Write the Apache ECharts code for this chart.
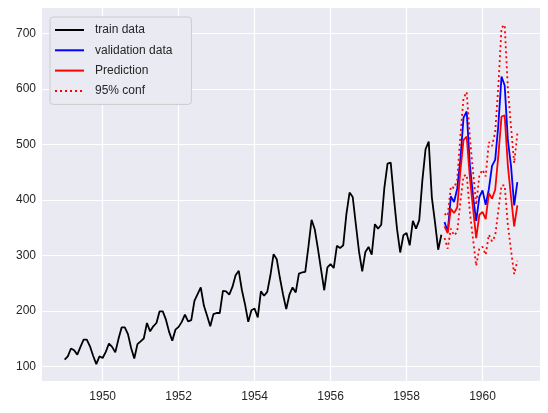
<!DOCTYPE html>
<html><head><meta charset="utf-8">
<script src="https://cdn.jsdelivr.net/npm/echarts@6/dist/echarts.min.js"></script>
<style>html,body{margin:0;padding:0;background:#fff}#c{width:548px;height:413px}</style>
</head><body><div id="c"></div>
<script>
const trainStart = 1949;
const trainValues = [
  112,118,132,129,121,135,148,148,136,119,104,118,
  115,126,141,135,125,149,170,170,158,133,114,140,
  145,150,178,163,172,178,199,199,184,162,146,166,
  171,180,193,181,183,218,230,242,209,191,172,194,
  196,196,236,235,229,243,264,272,237,211,180,201,
  204,188,235,227,234,264,302,293,259,229,203,229,
  242,233,267,269,270,315,364,347,312,274,237,278,
  284,277,317,313,318,374,413,405,355,306,271,306,
  315,301,356,348,355,422,465,467,404,347,305,336,
  340,318,362,348,363,435,491,505,404,359,310,337
];
const validStart = 1959;
const validValues = [
  360,342,406,396,420,472,548,559,463,407,362,405,
  417,391,419,461,472,535,622,606,508,461,390,432
];
const predValues = [
  352,340,384,376,386,452,508,514,440,385,331,373,
  378,365,412,402,418,480,550,552,462,405,352,390
];
const upperValues = [
  375,371,424,421,436,515,583,594,512,451,391,444,
  454,442,504,497,522,605,710,715,601,531,466,519
];
const lowerValues = [
  331,312,348,336,342,396,443,445,378,329,281,313,
  315,301,337,325,335,381,426,426,355,309,266,290
];
const xTicks = [1950,1952,1954,1956,1958,1960];
const yTicks = [100,200,300,400,500,600,700];
const names = ['train data','validation data','Prediction','95% conf'];

function toPoints(start, vals){ return vals.map((v,i)=>[start + i/12, v]); }

const FONT = 'Liberation Sans, Arial, sans-serif';
const TXT = '#262626';
const LW = 1.8;

const gridLines = xTicks.map(v=>({xAxis:v})).concat(yTicks.map(v=>({yAxis:v})));

const chart = echarts.init(document.getElementById('c'), null, {renderer:'canvas'});
chart.setOption({
  animation:false,
  backgroundColor:'#ffffff',
  textStyle:{fontFamily:FONT},
  grid:{left:42,right:8,top:8,bottom:32,show:true,backgroundColor:'#EAEAF2',borderWidth:0,containLabel:false},
  xAxis:{
    type:'value', min:1948.404, max:1961.513,
    axisLine:{show:false}, axisTick:{show:false}, splitLine:{show:false},
    axisLabel:{customValues:xTicks, color:TXT, fontSize:12, fontFamily:FONT, margin:10,
      formatter:v=>String(Math.round(v))}
  },
  yAxis:{
    type:'value', min:73.5, max:745.5,
    axisLine:{show:false}, axisTick:{show:false}, splitLine:{show:false},
    axisLabel:{customValues:yTicks, color:TXT, fontSize:12, fontFamily:FONT, margin:6,
      formatter:v=>String(Math.round(v))}
  },
  legend:{
    z:20,
    data:names.map(n=>({name:n})),
    orient:'vertical', left:50, top:17,
    itemWidth:29, itemHeight:14, itemGap:8.3,
    padding:[7,19,7.5,4],
    itemStyle:{opacity:0, borderWidth:0},
    formatter:n=>'\u2002' + n,
    backgroundColor:'#EAEAF2', borderColor:'#cccccc', borderWidth:1, borderRadius:3,
    textStyle:{color:TXT, fontSize:12, fontFamily:FONT}
  },
  series:[
    {type:'line', name:'_grid', data:[[1950,100]], symbol:'none', z:1, silent:true,
      lineStyle:{opacity:0},
      markLine:{z:1, silent:true, symbol:['none','none'], label:{show:false}, animation:false,
        lineStyle:{color:'#ffffff', type:'solid', width:1.2}, emphasis:{disabled:true},
        data:gridLines}},
    {type:'line', name:names[0], data:toPoints(trainStart, trainValues), symbol:'none', z:3,
      lineStyle:{color:'#000000', width:LW}, itemStyle:{color:'#000000'}},
    {type:'line', name:names[1], data:toPoints(validStart, validValues), symbol:'none', z:3,
      lineStyle:{color:'#0000ff', width:LW}, itemStyle:{color:'#0000ff'}},
    {type:'line', name:names[2], data:toPoints(validStart, predValues), symbol:'none', z:4,
      lineStyle:{color:'#ff0000', width:LW}, itemStyle:{color:'#ff0000'}},
    {type:'line', name:names[3], data:toPoints(validStart, upperValues), symbol:'none', z:4,
      lineStyle:{color:'#ff0000', width:LW, type:[2,3], cap:'butt'}, itemStyle:{color:'#ff0000'}},
    {type:'line', name:names[3], data:toPoints(validStart, lowerValues), symbol:'none', z:4,
      lineStyle:{color:'#ff0000', width:LW, type:[2,3], cap:'butt'}, itemStyle:{color:'#ff0000'}}
  ]
});
</script>
</body></html>
